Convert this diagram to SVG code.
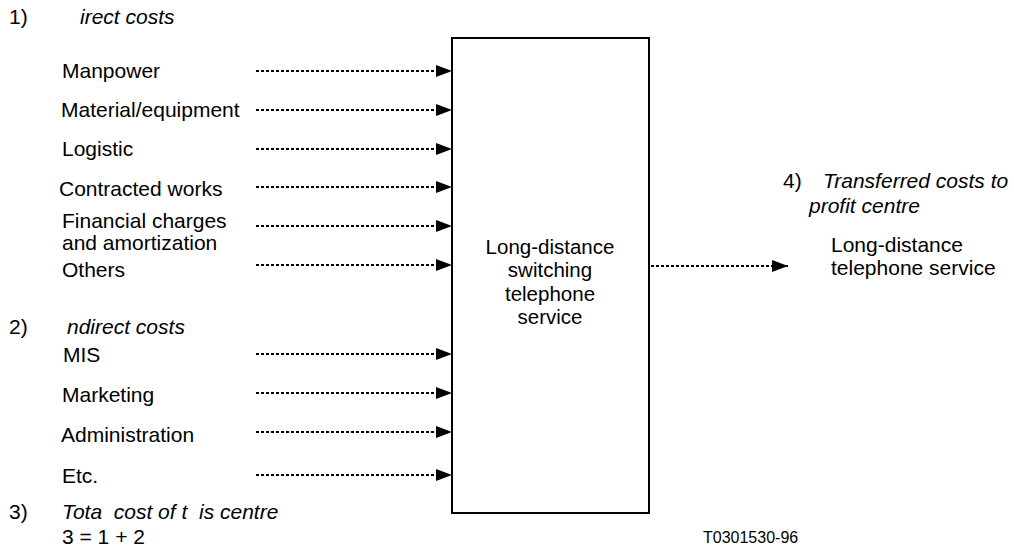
<svg xmlns="http://www.w3.org/2000/svg" width="1014" height="546" viewBox="0 0 1014 546">
<defs>
<style>
text{font-family:"Liberation Sans",Arial,sans-serif;font-size:21px;fill:#000;white-space:pre}
.it{font-style:italic}
.c{text-anchor:middle;font-size:20.5px}
.sm{font-size:16px}
.dl{stroke:#000;stroke-width:2;stroke-dasharray:3 2;fill:none}
</style>
<marker id="ah" markerUnits="userSpaceOnUse" markerWidth="17" markerHeight="13" refX="16" refY="6.5" orient="auto">
<polygon points="0,0.5 16,6.5 0,12.5" fill="#000"/>
</marker>
</defs>
<rect width="1014" height="546" fill="#fff"/>
<g id="headings">
<text x="9" y="24">1)</text><text x="80" y="24" class="it">irect costs</text>
<text x="9" y="334">2)</text><text x="67" y="334" class="it">ndirect costs</text>
<text x="9" y="519">3)</text><text x="62" y="519" class="it">Tota  cost of t  is centre</text>
<text x="62" y="544">3 = 1 + 2</text>
<text x="783" y="188">4)</text><text x="823" y="188" class="it">Transferred costs to</text>
<text x="809" y="213" class="it">profit centre</text>
<text x="703" y="543" class="sm">T0301530-96</text>
</g>
<g id="inputs">
<text x="62" y="78">Manpower</text>
<text x="61" y="117">Material/equipment</text>
<text x="62" y="156">Logistic</text>
<text x="59" y="196">Contracted works</text>
<text x="62" y="228">Financial charges</text>
<text x="62" y="250">and amortization</text>
<text x="62" y="277">Others</text>
<text x="63" y="362">MIS</text>
<text x="62" y="402">Marketing</text>
<text x="61" y="442">Administration</text>
<text x="62" y="483">Etc.</text>
</g>
<g id="centre">
<rect x="452" y="38" width="197" height="475" fill="#fff" stroke="#000" stroke-width="2"/>
<text x="550" y="254" class="c">Long-distance</text>
<text x="550" y="277" class="c">switching</text>
<text x="550" y="301" class="c">telephone</text>
<text x="550" y="324" class="c">service</text>
</g>
<g id="profit">
<text x="831" y="252">Long-distance</text>
<text x="831" y="275">telephone service</text>
</g>
<g id="connectors">
<line class="dl" x1="256" y1="71" x2="452" y2="71" marker-end="url(#ah)"/>
<line class="dl" x1="256" y1="110" x2="452" y2="110" marker-end="url(#ah)"/>
<line class="dl" x1="256" y1="149" x2="452" y2="149" marker-end="url(#ah)"/>
<line class="dl" x1="256" y1="187" x2="452" y2="187" marker-end="url(#ah)"/>
<line class="dl" x1="256" y1="226" x2="452" y2="226" marker-end="url(#ah)"/>
<line class="dl" x1="256" y1="265" x2="452" y2="265" marker-end="url(#ah)"/>
<line class="dl" x1="256" y1="354" x2="452" y2="354" marker-end="url(#ah)"/>
<line class="dl" x1="256" y1="393" x2="452" y2="393" marker-end="url(#ah)"/>
<line class="dl" x1="256" y1="432" x2="452" y2="432" marker-end="url(#ah)"/>
<line class="dl" x1="256" y1="475" x2="452" y2="475" marker-end="url(#ah)"/>
<line class="dl" x1="651" y1="266" x2="788" y2="266" marker-end="url(#ah)"/>
</g>
</svg>
